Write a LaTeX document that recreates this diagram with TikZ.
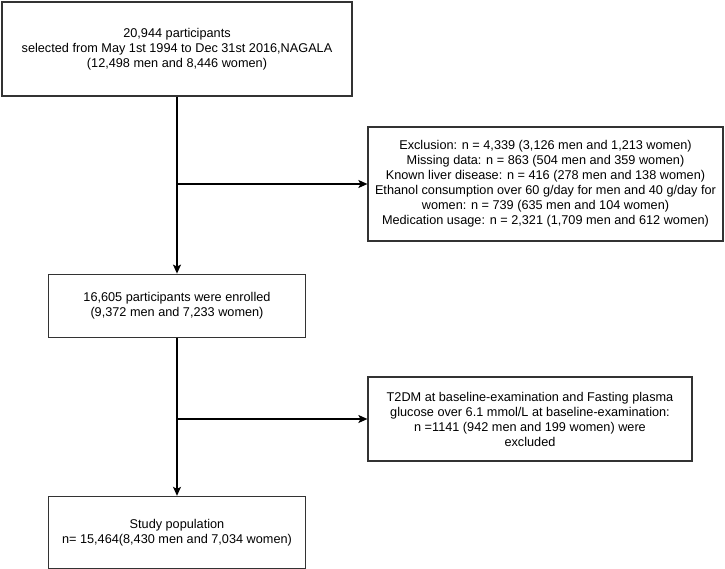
\documentclass[tikz,border=0pt]{standalone}
\usepackage{fontspec}
\setmainfont{Liberation Sans}
\usetikzlibrary{positioning,arrows.meta}
\begin{document}
\begin{tikzpicture}[x=1pt,y=-1pt,
      stage/.style={rectangle,draw=black!80,line width=1.2pt,align=center,inner sep=0pt,font=\fontsize{12.7}{15}\selectfont},
      flow/.style={-{Stealth[length=9pt,width=8pt,inset=2pt]},line width=1.2pt}]
      \useasboundingbox (0,0) rectangle (725,568);
      \node[stage,minimum width=350pt,minimum height=94pt] (total) at (177,49) {20,944 participants\\selected from May 1st 1994 to Dec 31st 2016,NAGALA\\(12,498 men and 8,446 women)};
      \node[stage,minimum width=257pt,minimum height=63pt,below=177pt of total] (enrolled) {16,605 participants were enrolled\\(9,372 men and 7,233 women)};
      \node[stage,minimum width=257pt,minimum height=72pt,below=158pt of enrolled] (study) {Study population\\n= 15,464(8,430 men and 7,034 women)};
      \node[stage,minimum width=355pt,minimum height=114pt] (excl) at (545.5,184) {Exclusion: n = 4,339 (3,126 men and 1,213 women)\\Missing data: n = 863 (504 men and 359 women)\\Known liver disease: n = 416 (278 men and 138 women)\\Ethanol consumption over 60 g/day for men and 40 g/day for\\women: n = 739 (635 men and 104 women)\\Medication usage: n = 2,321 (1,709 men and 612 women)};
      \node[stage,minimum width=324pt,minimum height=84pt] (t2dm) at (530,419) {T2DM at baseline-examination and Fasting plasma\\glucose over 6.1 mmol/L at baseline-examination:\\n =1141 (942 men and 199 women) were\\excluded};
      \draw[flow] (total.south) -- (enrolled.north);
      \draw[flow] (total.south |- excl.west) -- (excl.west);
      \draw[flow] (enrolled.south) -- (study.north);
      \draw[flow] (enrolled.south |- t2dm.west) -- (t2dm.west);
    \end{tikzpicture}
\end{document}
